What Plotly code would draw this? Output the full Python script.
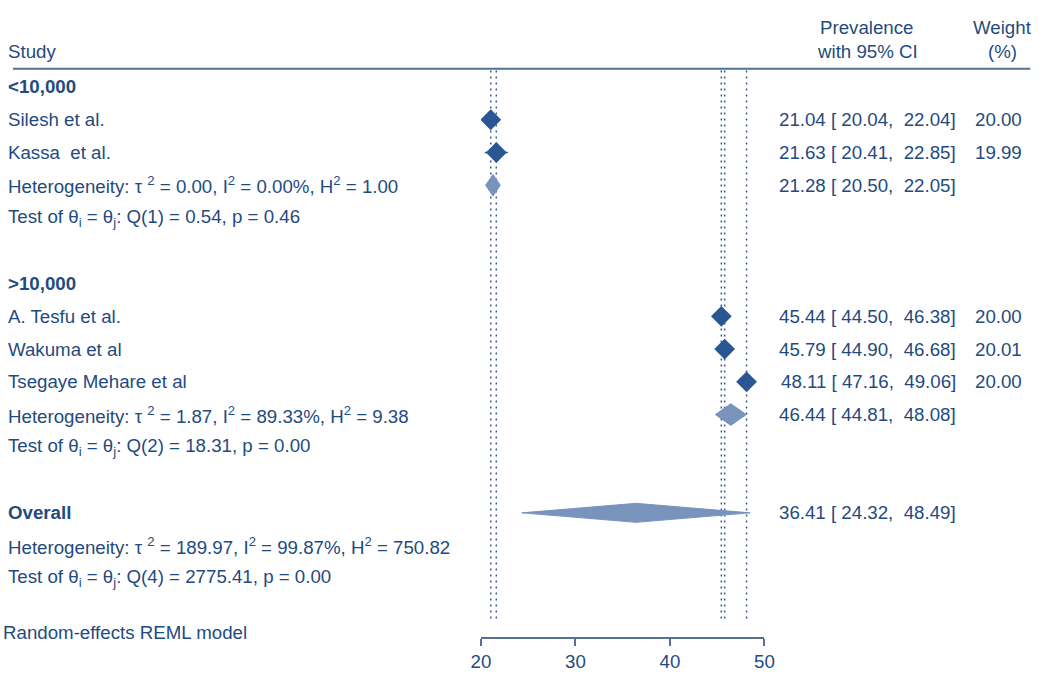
import plotly.graph_objects as go

# studies, grouped by population size
study_names = ["Silesh et al.", "Kassa  et al.", "A. Tesfu et al.", "Wakuma et al", "Tsegaye Mehare et al"]
study_rows = [1, 2, 7, 8, 9]
prev = [21.04, 21.63, 45.44, 45.79, 48.11]
ci_low = [20.04, 20.41, 44.50, 44.90, 47.16]
ci_high = [22.04, 22.85, 46.38, 46.68, 49.06]
weights = [20.00, 19.99, 20.00, 20.01, 20.00]

# subgroup summaries
group_labels = ["&lt;10,000", "&gt;10,000"]
group_rows = [0, 6]
sub_rows = [3, 10]
sub_prev = [21.28, 46.44]
sub_low = [20.50, 44.81]
sub_high = [22.05, 48.08]
sub_het = [
    "Heterogeneity: τ <sup>2</sup> = 0.00, I<sup>2</sup> = 0.00%, H<sup>2</sup> = 1.00",
    "Heterogeneity: τ <sup>2</sup> = 1.87, I<sup>2</sup> = 89.33%, H<sup>2</sup> = 9.38",
]
sub_test = [
    "Test of θ<sub>i</sub> = θ<sub>j</sub>: Q(1) = 0.54, p = 0.46",
    "Test of θ<sub>i</sub> = θ<sub>j</sub>: Q(2) = 18.31, p = 0.00",
]

# overall
overall_row = 13
overall_prev = 36.41
overall_low = 24.32
overall_high = 48.49
overall_het = "Heterogeneity: τ <sup>2</sup> = 189.97, I<sup>2</sup> = 99.87%, H<sup>2</sup> = 750.82"
overall_test = "Test of θ<sub>i</sub> = θ<sub>j</sub>: Q(4) = 2775.41, p = 0.00"

x_ticks = [20, 30, 40, 50]

TEXT = "#1f4b80"
MARK = "#2a5794"
DIAM = "#7894bd"
LINE = "#56708f"
FONT = "Liberation Sans, Arial, sans-serif"
FS = 18.7
W, H = 1056, 689

fig = go.Figure()

# dotted reference lines at each study estimate
for p in prev:
    fig.add_trace(go.Scatter(x=[p, p], y=[-0.5, 16.25], mode="lines",
                             line=dict(color="#3b5a86", width=1.5, dash="2px,4px"),
                             hoverinfo="skip"))

# study markers with CIs
fig.add_trace(go.Scatter(
    x=prev, y=study_rows, mode="markers",
    marker=dict(symbol="diamond", size=16, color=MARK),
    error_x=dict(type="data", symmetric=False,
                 array=[h - p for h, p in zip(ci_high, prev)],
                 arrayminus=[p - l for p, l in zip(prev, ci_low)],
                 color=MARK, thickness=1.5, width=0),
))


def diamond(lo, est, hi, row, h=0.33):
    fig.add_trace(go.Scatter(x=[lo, est, hi, est, lo], y=[row, row - h, row, row + h, row],
                             mode="lines", fill="toself", fillcolor=DIAM,
                             line=dict(color=DIAM, width=1), hoverinfo="skip"))


for lo, est, hi, row in zip(sub_low, sub_prev, sub_high, sub_rows):
    diamond(lo, est, hi, row)
diamond(overall_low, overall_prev, overall_high, overall_row, h=0.29)


def txt(px, y, s, anchor="left"):
    shift = {"left": -11, "right": 9, "center": 8}[anchor]
    fig.add_annotation(x=(px + shift) / W, y=y, xref="paper", yref="y", text=s, showarrow=False,
                       xanchor=anchor, yanchor="middle", font=dict(size=FS, color=TEXT))


x_left = 7
x_ci = 957
x_w = 1025

# headers
txt(x_left, -1.07, "Study")
txt(866, -1.83, "Prevalence", "center")
txt(866, -1.07, "with 95% CI", "center")
txt(1004, -1.83, "Weight", "center")
txt(1004, -1.07, "(%)", "center")

for lab, r in zip(group_labels, group_rows):
    txt(x_left, r, f"<b>{lab}</b>")

for name, r, p, l, h, w in zip(study_names, study_rows, prev, ci_low, ci_high, weights):
    txt(x_left, r, name)
    txt(x_ci, r, f"{p:.2f} [ {l:.2f},  {h:.2f}]", "right")
    txt(x_w, r, f"{w:.2f}", "right")

for r, p, l, h, het, test in zip(sub_rows, sub_prev, sub_low, sub_high, sub_het, sub_test):
    txt(x_left, r, het)
    txt(x_ci, r, f"{p:.2f} [ {l:.2f},  {h:.2f}]", "right")
    txt(x_left, r + 1, test)

txt(x_left, overall_row, "<b>Overall</b>")
txt(x_ci, overall_row, f"{overall_prev:.2f} [ {overall_low:.2f},  {overall_high:.2f}]", "right")
txt(x_left, overall_row + 1, overall_het)
txt(x_left, overall_row + 2, overall_test)
txt(2, 16.64, "Random-effects REML model")

# header rule
fig.add_shape(type="line", xref="paper", yref="y", x0=3 / W, x1=1040 / W, y0=-0.56, y1=-0.56,
              line=dict(color=LINE, width=2))

fig.update_layout(
    width=W, height=H,
    margin=dict(l=0, r=0, t=0, b=0),
    paper_bgcolor="white", plot_bgcolor="white",
    showlegend=False,
    font=dict(family=FONT, size=FS, color=TEXT),
    xaxis=dict(domain=[480 / W, 769 / W], range=[20, 50], tickvals=x_ticks,
               showgrid=False, zeroline=False, showline=True, linecolor=LINE, linewidth=1.5,
               ticks="outside", ticklen=7, tickcolor=LINE, tickwidth=1.5,
               tickfont=dict(size=FS, color=TEXT)),
    yaxis=dict(domain=[1 - 637 / H, 1], range=[16.79, -2.655], visible=False),
)

fig.write_html("out.html", config={"displayModeBar": False},
               post_script="document.body.style.margin='0';document.body.style.overflow='hidden';")
